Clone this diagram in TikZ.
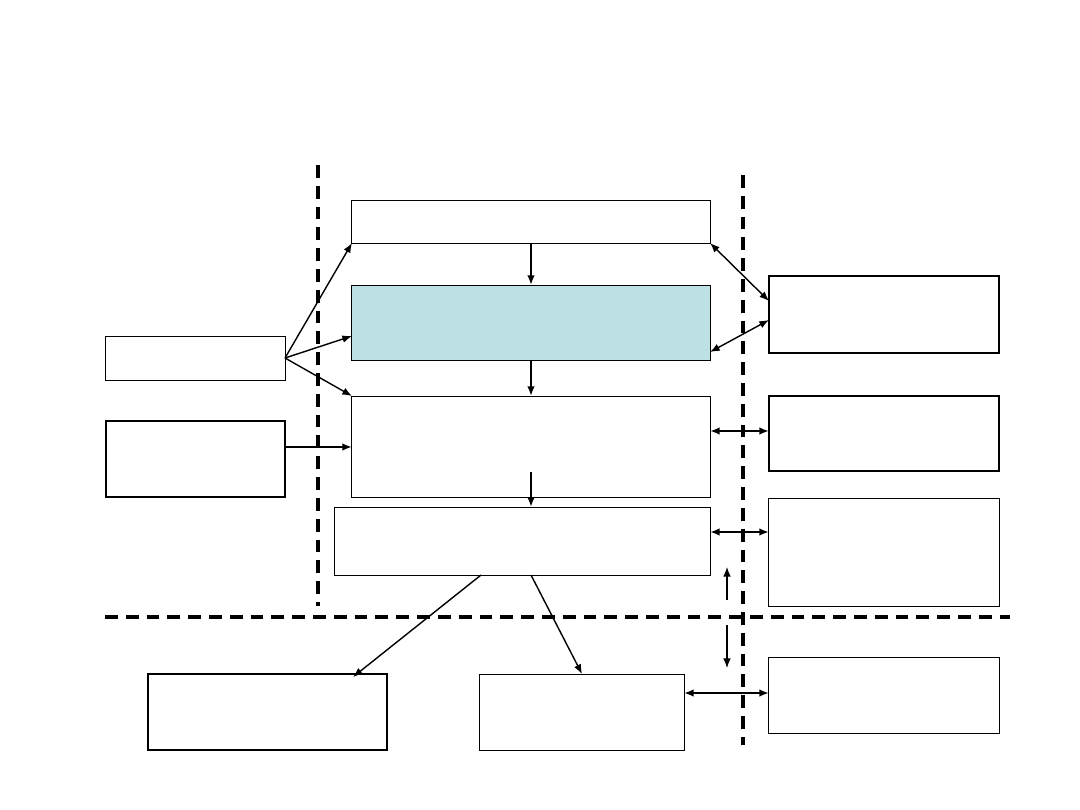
\documentclass[tikz,border=0pt]{standalone}
\usepackage{xcolor}
\usepackage{tikz}
\usetikzlibrary{arrows.meta,positioning,calc}

\definecolor{paleblue}{RGB}{188,224,227}

\begin{document}
\begin{tikzpicture}[
  x=0.025cm, y=-0.025cm,
  >={Latex[length=2.4mm,width=1.9mm]},
  box/.style={draw, rectangle, inner sep=0pt, outer sep=0pt, line width=0.7pt},
  heavybox/.style={box, line width=1.1pt},
  arrow/.style={->, line width=1.6pt},
  link/.style={->, line width=1pt},
  twoway/.style={<->, line width=1.6pt},
  thinlink/.style={<->, line width=1pt},
  small/.style={->, line width=0.8pt},
  border/.style={line width=2.8pt, dash pattern=on 0.32cm off 0.2cm}
]
\useasboundingbox (0,0) rectangle (1080,810);

% central column
\node[box, minimum width=8.95cm, minimum height=1.075cm] (top) at (531,221.5) {};
\node[box, fill=paleblue, minimum width=8.95cm, minimum height=1.875cm] (core) at (531,322.5) {};
\node[box, minimum width=8.95cm, minimum height=2.525cm] (mid) at (531,446.5) {};
\node[box, minimum width=9.375cm, minimum height=1.7cm] (low) at (522.5,541) {};

% left side
\node[box, minimum width=4.475cm, minimum height=1.1cm] (inA) at (195.5,358) {};
\node[heavybox, minimum width=4.475cm, minimum height=1.9cm] (inB) at (195.5,459) {};

% right side
\node[heavybox, minimum width=5.75cm, minimum height=1.925cm] (extA) at (884,314.5) {};
\node[heavybox, minimum width=5.75cm, minimum height=1.875cm] (extB) at (884,433.5) {};
\node[box, minimum width=5.75cm, minimum height=2.7cm] (extC) at (884,552) {};
\node[box, minimum width=5.75cm, minimum height=1.9cm] (extD) at (884,695) {};

% bottom row
\node[heavybox, minimum width=5.975cm, minimum height=1.9cm] (outA) at (267.5,712) {};
\node[box, minimum width=5.1cm, minimum height=1.9cm] (outB) at (582,712) {};

% boundaries
\draw[border] (318,165) -- (318,606);
\draw[border] (743,175) -- (743,745);
\draw[border] (105,617) -- (1010,617);

% flow down the column
\draw[arrow] (top.south) -- (core.north);
\draw[arrow] (core.south) -- (mid.north);
\draw[arrow] ($(mid.south)+(0,-25)$) -- (mid.south |- low.north);

% inputs
\draw[link] (inA.east) -- (top.south west);
\draw[link] (inA.east) -- ($(core.west)+(0,13.5)$);
\draw[link] (inA.east) -- (mid.north west);
\draw[arrow] ($(inB.east)+(0,-12)$) -- ($(inB.east -| mid.west)+(0,-12)$);

% exchanges across the right boundary
\draw[thinlink] (top.south east) -- ($(extA.west)+(0,-13.5)$);
\draw[thinlink] ($(core.east)+(0,29.5)$) -- ($(extA.west)+(0,5.5)$);
\draw[twoway] ($(mid.east |- extB.west)+(0,-2.5)$) -- ($(extB.west)+(0,-2.5)$);
\draw[twoway] ($(low.east)+(0,-9)$) -- ($(low.east -| extC.west)+(0,-9)$);
\draw[twoway] ($(outB.east)+(0,-19)$) -- ($(outB.east -| extD.west)+(0,-19)$);

% outputs
\draw[link] ($(low.south)+(-41.5,0)$) -- ($(outA.north)+(85.5,3)$);
\draw[link] ($(low.south)+(8.5,0)$) -- (outB.north);

% small arrows at the crossing
\coordinate (upS) at (727,600);
\coordinate (upE) at (727,567);
\coordinate (dnS) at (727,625);
\coordinate (dnE) at (727,668);
\draw[small] (upS) -- (upE);
\draw[small] (dnS) -- (dnE);
\end{tikzpicture}
\end{document}
